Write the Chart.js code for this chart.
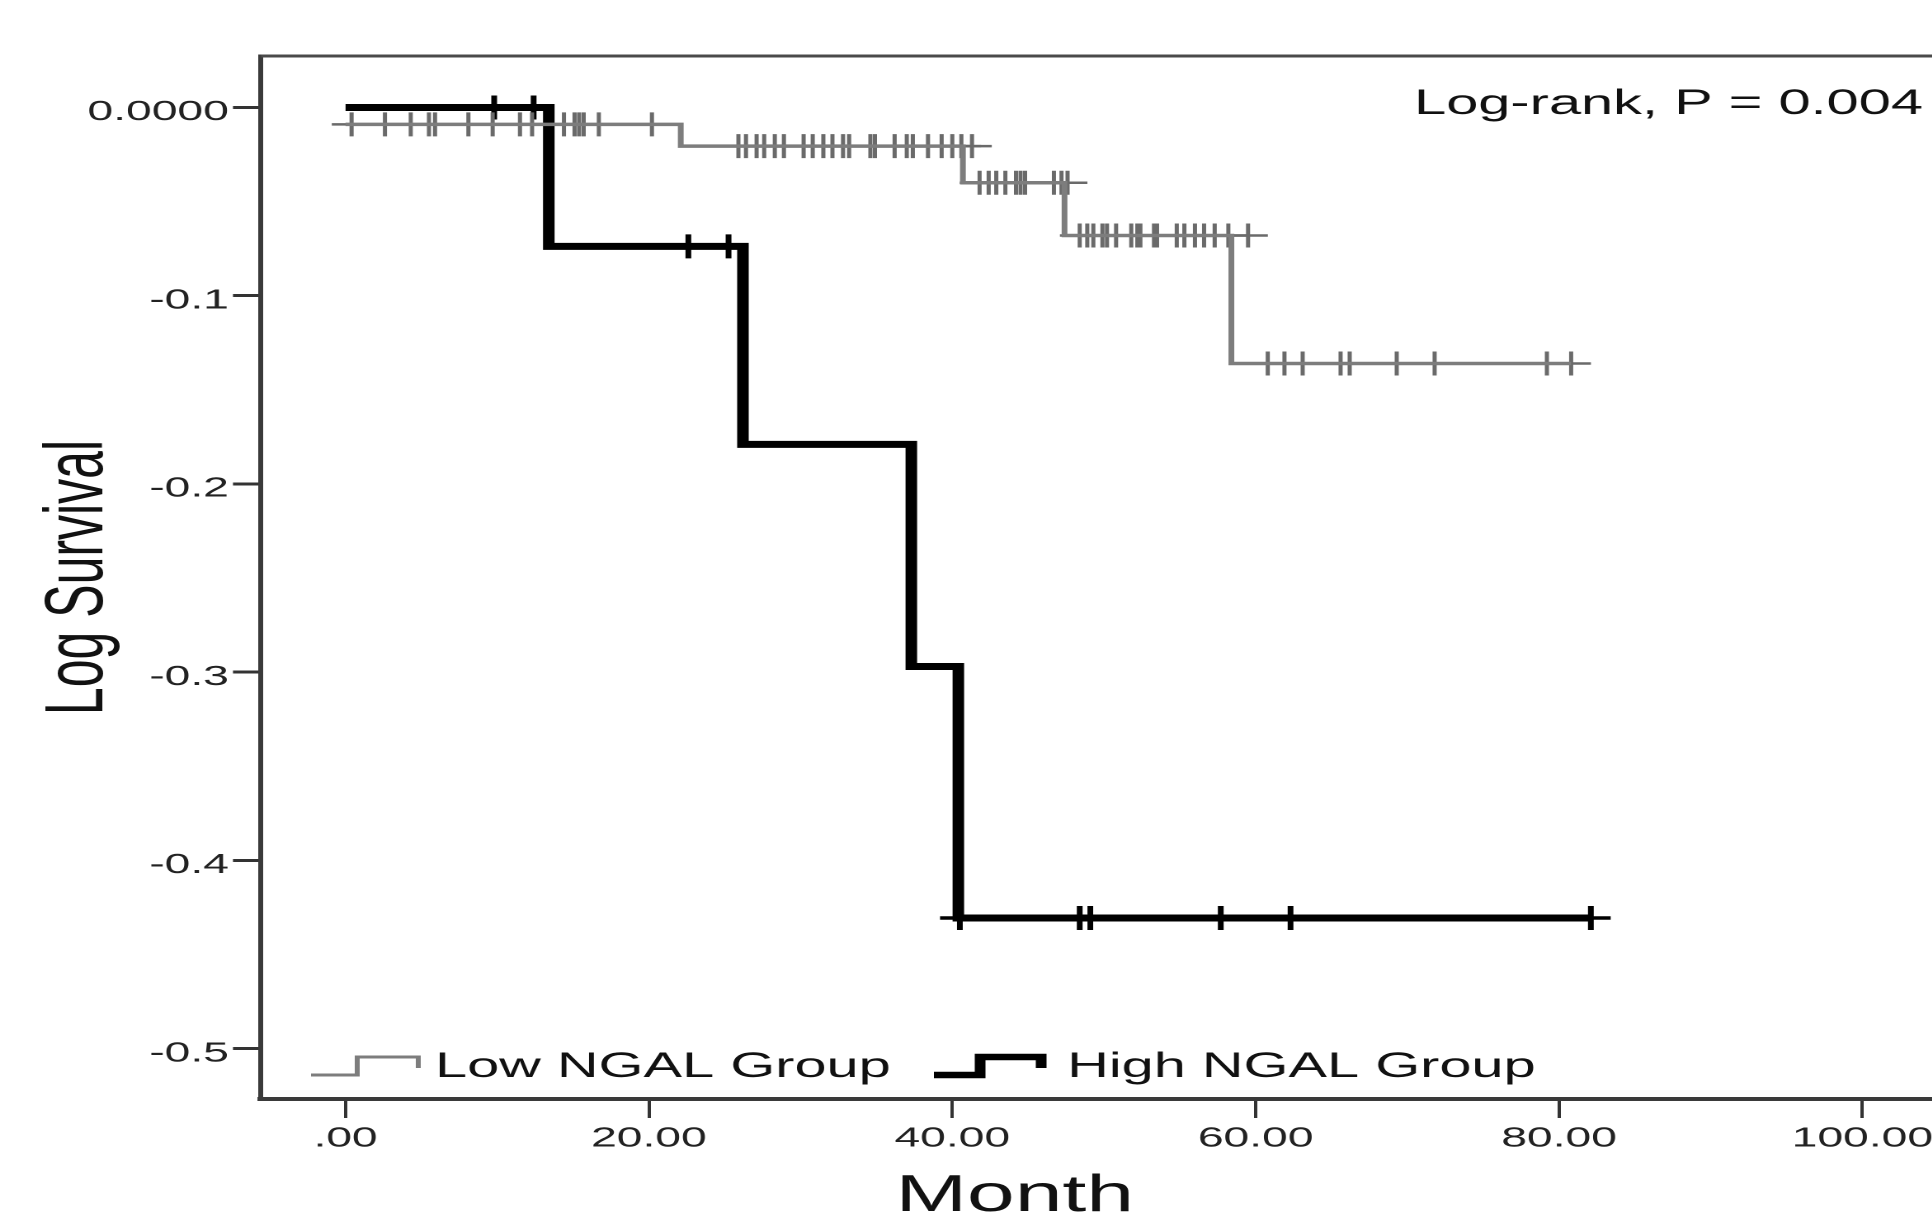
<!DOCTYPE html>
<html>
<head>
<meta charset="utf-8">
<title>Log Survival by NGAL Group</title>
<script src="https://cdn.jsdelivr.net/npm/chart.js@4.4.1/dist/chart.umd.min.js"></script>
<style>
  html, body { margin: 0; padding: 0; background: #fff; overflow: hidden; }
  /* the source figure is stretched sideways, so draw narrow and scale the box */
  #wrap {
    position: absolute; left: 0; top: 0;
    width: 1171px; height: 1215px;
    transform: scaleX(1.65); transform-origin: 0 0;
  }
</style>
</head>
<body>
<div id="wrap"><canvas id="chart"></canvas></div>
<script>
// Step curves: month of each drop and log survival after it
const lowTimes = [0, 22.1, 40.7, 47.4, 58.4, 80.8];
const lowLogSurvival = [-0.009, -0.0205, -0.040, -0.068, -0.136, -0.136];
const highTimes = [0, 13.4, 26.2, 37.3, 40.4, 82.1];
const highLogSurvival = [0, -0.0738, -0.179, -0.297, -0.4306, -0.4306];

// Censored cases (the "+" marks)
const lowCensorTimes = [
  0.4, 2.6, 4.3, 5.5, 5.9, 8.1, 9.7, 11.5, 12.3, 14.4, 15.1, 15.4, 15.7, 16.7, 20.2,
  25.9, 26.4, 27.1, 27.6, 28.3, 28.9, 30.2, 30.8, 31.5, 32.1, 32.8, 33.2, 34.6, 34.9, 36.2, 37.0, 37.4, 38.4, 39.3, 40.0, 40.6,
  41.3, 41.8, 42.4, 42.9, 43.5, 44.2, 44.5, 44.8, 46.7, 47.2,
  47.6, 48.4, 48.9, 49.3, 49.9, 50.2, 50.8, 51.8, 52.2, 52.4, 53.3, 53.5, 54.8, 55.3, 56.0, 56.6, 57.3, 58.2,
  59.5, 60.8, 61.9, 63.1, 65.6, 66.2, 69.3, 71.8, 79.2, 80.8
];
const lowCensorLogSurvival = [
  -0.009, -0.009, -0.009, -0.009, -0.009, -0.009, -0.009, -0.009, -0.009, -0.009, -0.009, -0.009, -0.009, -0.009, -0.009,
  -0.0205, -0.0205, -0.0205, -0.0205, -0.0205, -0.0205, -0.0205, -0.0205, -0.0205, -0.0205, -0.0205,
  -0.0205, -0.0205, -0.0205, -0.0205, -0.0205, -0.0205, -0.0205, -0.0205, -0.0205, -0.0205, -0.0205,
  -0.040, -0.040, -0.040, -0.040, -0.040, -0.040, -0.040, -0.040, -0.040, -0.040,
  -0.068, -0.068, -0.068, -0.068, -0.068, -0.068, -0.068, -0.068, -0.068,
  -0.068, -0.068, -0.068, -0.068, -0.068, -0.068, -0.068, -0.068, -0.068,
  -0.136, -0.136, -0.136, -0.136, -0.136, -0.136, -0.136, -0.136, -0.136, -0.136
];
const highCensorTimes = [9.8, 12.4, 22.6, 25.25, 40.5, 48.4, 49.1, 57.7, 62.3, 82.1];
const highCensorLogSurvival = [0, 0, -0.0738, -0.0738, -0.4306, -0.4306, -0.4306, -0.4306, -0.4306, -0.4306];

// Axis ticks
const xTickValues = [0, 20, 40, 60, 80, 100];
const xTickLabels = ['.00', '20.00', '40.00', '60.00', '80.00', '100.00'];
const yTickValues = [0, -0.1, -0.2, -0.3, -0.4, -0.5];
const yTickLabels = ['0.0000', '-0.1', '-0.2', '-0.3', '-0.4', '-0.5'];

const seriesNames = ['Low NGAL Group', 'High NGAL Group'];
const testLabel = 'Log-rank, P = 0.004';

const FONT = '"Liberation Sans", Arial, Helvetica, sans-serif';
const LOW_COLOR = '#7d7d7d';
const HIGH_COLOR = '#000000';

const toPoints = (xs, ys) => xs.map((x, i) => ({ x: x, y: ys[i] }));

// Frame top edge, titles, log-rank note and SPSS style legend
const extrasPlugin = {
  id: 'extras',
  afterDraw(chart) {
    const { ctx, chartArea } = chart;
    ctx.save();

    ctx.strokeStyle = '#4a4a4a';
    ctx.lineWidth = 3;
    ctx.beginPath();
    ctx.moveTo(chartArea.left, chartArea.top);
    ctx.lineTo(chartArea.right, chartArea.top);
    ctx.stroke();

    ctx.fillStyle = '#111';
    ctx.textBaseline = 'alphabetic';

    // log-rank note
    ctx.font = `35px ${FONT}`;
    ctx.textAlign = 'left';
    ctx.fillText(testLabel, 857, 114);

    // x title
    ctx.font = `52px ${FONT}`;
    ctx.textAlign = 'center';
    ctx.fillText('Month', 615, 1211);

    // y title
    ctx.save();
    ctx.translate(62, (chartArea.top + chartArea.bottom) / 2);
    ctx.rotate(-Math.PI / 2);
    ctx.font = `50px ${FONT}`;
    ctx.textAlign = 'center';
    ctx.fillText('Log Survival', 0, 0);
    ctx.restore();

    // legend
    const yLow = 1075, yHigh = 1057, yHook = 1068;
    const drawKey = (x0, color, width) => {
      ctx.strokeStyle = color;
      ctx.lineWidth = width;
      ctx.lineJoin = 'miter';
      ctx.beginPath();
      ctx.moveTo(x0, yLow);
      ctx.lineTo(x0 + 28, yLow);
      ctx.lineTo(x0 + 28, yHigh);
      ctx.lineTo(x0 + 65, yHigh);
      ctx.lineTo(x0 + 65, yHook);
      ctx.stroke();
    };
    drawKey(188.5, LOW_COLOR, 3);
    drawKey(566, HIGH_COLOR, 6.5);

    ctx.font = `35px ${FONT}`;
    ctx.textAlign = 'left';
    ctx.fillStyle = '#111';
    ctx.fillText(seriesNames[0], 263.6, 1077);
    ctx.fillText(seriesNames[1], 646.7, 1077);

    ctx.restore();
  }
};

new Chart(document.getElementById('chart'), {
  type: 'line',
  data: {
    datasets: [
      {
        label: seriesNames[0],
        data: toPoints(lowTimes, lowLogSurvival),
        borderColor: LOW_COLOR,
        borderWidth: 3.5,
        stepped: 'before',
        pointRadius: 0,
        fill: false
      },
      {
        label: seriesNames[0] + ' censored',
        data: toPoints(lowCensorTimes, lowCensorLogSurvival),
        showLine: false,
        pointStyle: 'cross',
        pointRadius: 12,
        pointBorderWidth: 2.5,
        pointBorderColor: '#6a6a6a'
      },
      {
        label: seriesNames[1],
        data: toPoints(highTimes, highLogSurvival),
        borderColor: HIGH_COLOR,
        borderWidth: 7,
        stepped: 'before',
        pointRadius: 0,
        fill: false
      },
      {
        label: seriesNames[1] + ' censored',
        data: toPoints(highCensorTimes, highCensorLogSurvival),
        showLine: false,
        pointStyle: 'cross',
        pointRadius: 12,
        pointBorderWidth: 3.5,
        pointBorderColor: HIGH_COLOR
      }
    ]
  },
  options: {
    responsive: true,
    maintainAspectRatio: false,
    devicePixelRatio: 2,
    animation: false,
    layout: {
      autoPadding: false,
      padding: { top: 56, left: 0, right: 0, bottom: 0 }
    },
    plugins: {
      legend: { display: false },
      tooltip: { enabled: false },
      title: { display: false }
    },
    scales: {
      x: {
        type: 'linear',
        min: -5.57,
        max: 104.6,
        afterBuildTicks: (scale) => {
          scale.ticks = xTickValues.map(v => ({ value: v }));
        },
        afterFit: (scale) => {
          scale.height = 116;
          scale.paddingLeft = 0;
          scale.paddingRight = 0;
        },
        ticks: {
          autoSkip: false,
          maxRotation: 0,
          padding: 4,
          color: '#222',
          font: { family: FONT, size: 28 },
          callback: (value, index) => xTickLabels[index]
        },
        grid: {
          drawOnChartArea: false,
          drawTicks: true,
          tickLength: 19,
          tickWidth: 2,
          tickColor: '#333'
        },
        border: { display: true, color: '#3a3a3a', width: 4 }
      },
      y: {
        type: 'linear',
        min: -0.5268,
        max: 0.02736,
        afterBuildTicks: (scale) => {
          scale.ticks = yTickValues.map(v => ({ value: v }));
        },
        afterFit: (scale) => {
          scale.width = 158.2;
          scale.paddingTop = 0;
          scale.paddingBottom = 0;
        },
        ticks: {
          autoSkip: false,
          padding: 2.5,
          labelOffset: 5,
          color: '#222',
          font: { family: FONT, size: 28 },
          callback: (value, index) => yTickLabels[index]
        },
        grid: {
          drawOnChartArea: false,
          drawTicks: true,
          tickLength: 17,
          tickWidth: 3,
          tickColor: '#333'
        },
        border: { display: true, color: '#3a3a3a', width: 3 }
      }
    }
  },
  plugins: [extrasPlugin]
});
</script>
</body>
</html>
